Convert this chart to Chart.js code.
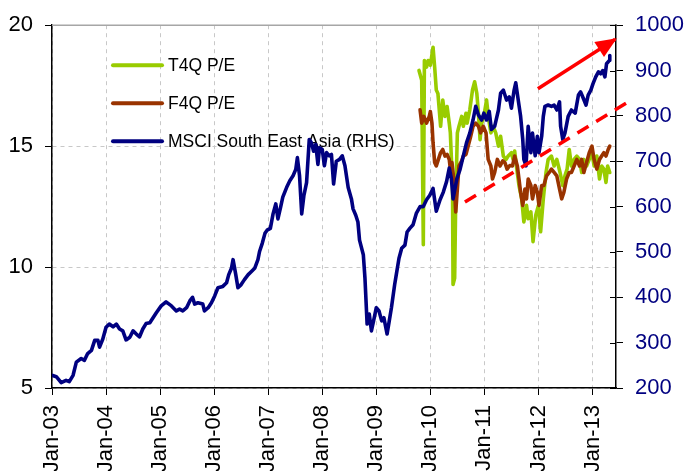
<!DOCTYPE html>
<html>
<head>
<meta charset="utf-8">
<script src="https://cdn.jsdelivr.net/npm/chart.js@4.4.1/dist/chart.umd.min.js"></script>
<style>
  html, body { margin: 0; padding: 0; background: #ffffff; overflow: hidden; }
  #wrap { width: 686px; height: 471px; }
</style>
</head>
<body>
<div id="wrap"><canvas id="chart" width="686" height="471"></canvas></div>
<script>
// X axis: January of each year, expressed as decimal years
const tickYears = [2003, 2004, 2005, 2006, 2007, 2008, 2009, 2010, 2011, 2012, 2013];
const tickLabels = ['Jan-03', 'Jan-04', 'Jan-05', 'Jan-06', 'Jan-07', 'Jan-08', 'Jan-09', 'Jan-10', 'Jan-11', 'Jan-12', 'Jan-13'];

// MSCI South East Asia index level (right-hand axis)
const msciYears = [
  2003.00, 2003.08, 2003.17, 2003.26, 2003.32, 2003.39, 2003.45, 2003.54, 2003.60, 2003.66,
  2003.73, 2003.79, 2003.85, 2003.88, 2003.94, 2004.00, 2004.06, 2004.13, 2004.19, 2004.25,
  2004.31, 2004.37, 2004.44, 2004.50, 2004.56, 2004.62, 2004.68, 2004.74, 2004.81, 2004.87,
  2004.93, 2005.02, 2005.11, 2005.21, 2005.30, 2005.36, 2005.42, 2005.49, 2005.55, 2005.60,
  2005.64, 2005.70, 2005.79, 2005.82, 2005.89, 2005.95, 2006.01, 2006.07, 2006.16, 2006.23,
  2006.27, 2006.32, 2006.35, 2006.40, 2006.44, 2006.50, 2006.56, 2006.63, 2006.69, 2006.75,
  2006.81, 2006.84, 2006.89, 2006.94, 2006.98, 2007.04, 2007.09, 2007.14, 2007.18, 2007.23,
  2007.27, 2007.34, 2007.40, 2007.46, 2007.51, 2007.54, 2007.58, 2007.62, 2007.66, 2007.71,
  2007.76, 2007.80, 2007.84, 2007.88, 2007.92, 2007.95, 2008.00, 2008.04, 2008.08, 2008.13,
  2008.17, 2008.21, 2008.26, 2008.32, 2008.37, 2008.42, 2008.48, 2008.54, 2008.57, 2008.62,
  2008.66, 2008.69, 2008.76, 2008.79, 2008.81, 2008.83, 2008.87, 2008.91, 2008.95, 2009.00,
  2009.05, 2009.10, 2009.14, 2009.20, 2009.24, 2009.28, 2009.34, 2009.37, 2009.42, 2009.47,
  2009.53, 2009.57, 2009.62, 2009.68, 2009.74, 2009.81, 2009.87, 2009.93, 2009.99, 2010.05,
  2010.11, 2010.18, 2010.24, 2010.30, 2010.35, 2010.39, 2010.42, 2010.49, 2010.55, 2010.61,
  2010.67, 2010.73, 2010.79, 2010.84, 2010.89, 2010.95, 2010.99, 2011.04, 2011.09, 2011.13,
  2011.19, 2011.26, 2011.30, 2011.35, 2011.41, 2011.46, 2011.50, 2011.55, 2011.58, 2011.63,
  2011.67, 2011.71, 2011.73, 2011.77, 2011.81, 2011.86, 2011.89, 2011.94, 2011.98, 2012.01,
  2012.06, 2012.09, 2012.12, 2012.18, 2012.24, 2012.29, 2012.34, 2012.39, 2012.41, 2012.45,
  2012.49, 2012.55, 2012.61, 2012.68, 2012.74, 2012.78, 2012.83, 2012.88, 2012.92, 2012.97,
  2013.01, 2013.06, 2013.11, 2013.15, 2013.19, 2013.23, 2013.26, 2013.31, 2013.32
];
const msciValues = [
  228, 225, 212, 217, 214, 228, 257, 265, 261, 276,
  283, 305, 305, 290, 308, 334, 341, 335, 341, 330,
  326, 306, 312, 326, 319, 313, 330, 342, 344, 355,
  366, 381, 390, 381, 370, 374, 370, 377, 392, 400,
  385, 388, 385, 370, 377, 388, 403, 421, 424, 432,
  450, 464, 483, 450, 421, 428, 439, 450, 457, 464,
  483, 501, 519, 541, 548, 552, 584, 606, 573, 599,
  621, 642, 657, 668, 682, 708, 668, 584, 624, 653,
  748, 741, 722, 737, 693, 730, 726, 690, 719, 712,
  715, 650, 700, 704, 712, 690, 642, 617, 595, 581,
  566, 526, 494, 443, 392, 341, 363, 326, 348, 377,
  370, 348, 355, 319, 348, 377, 428, 450, 486, 508,
  515, 544, 552, 560, 585, 600, 600, 615, 625, 640,
  590, 615, 632, 655, 685, 661, 617, 661, 682, 712,
  741, 762, 791, 821, 802, 791, 806, 791, 810, 770,
  777, 813, 850, 857, 835, 842, 817, 857, 873, 832,
  799, 748, 704, 690, 777, 719, 762, 712, 755, 719,
  755, 799, 821, 824, 821, 824, 813, 831, 777, 748,
  762, 799, 813, 806, 846, 853, 839, 824, 846, 857,
  871, 886, 897, 893, 900, 886, 915, 922, 933
];

// Trailing four-quarter P/E (left axis)
const t4qYears = [
  2009.79, 2009.84, 2009.87, 2009.89, 2009.93, 2009.96, 2010.00, 2010.05, 2010.08, 2010.11,
  2010.14, 2010.19, 2010.23, 2010.27, 2010.31, 2010.35, 2010.37, 2010.39, 2010.41, 2010.42,
  2010.45, 2010.47, 2010.50, 2010.53, 2010.58, 2010.61, 2010.66, 2010.68, 2010.73, 2010.78,
  2010.82, 2010.86, 2010.89, 2010.92, 2010.95, 2010.99, 2011.04, 2011.08, 2011.12, 2011.16,
  2011.21, 2011.26, 2011.30, 2011.35, 2011.40, 2011.44, 2011.50, 2011.53, 2011.56, 2011.60,
  2011.64, 2011.69, 2011.73, 2011.78, 2011.81, 2011.86, 2011.90, 2011.95, 2012.00, 2012.04,
  2012.09, 2012.14, 2012.18, 2012.24, 2012.29, 2012.34, 2012.40, 2012.45, 2012.49, 2012.53,
  2012.57, 2012.61, 2012.66, 2012.71, 2012.76, 2012.80, 2012.84, 2012.89, 2012.94, 2012.99,
  2013.03, 2013.08, 2013.13, 2013.17, 2013.21, 2013.25, 2013.28, 2013.32
];
const t4qValues = [
  18.13, 17.72, 10.92, 18.54, 18.27, 18.54, 18.34, 19.09, 18.27, 17.32,
  17.18, 15.82, 16.91, 16.23, 16.64, 15.95, 15.55, 14.45, 13.50, 9.28,
  9.55, 12.82, 15.55, 15.82, 16.23, 15.82, 16.36, 15.95, 16.50, 17.32,
  17.66, 17.18, 16.36, 15.27, 15.95, 16.23, 16.91, 16.09, 15.55, 15.82,
  15.55, 15.00, 15.41, 14.59, 14.45, 14.59, 14.73, 14.45, 14.80, 14.05,
  13.37, 12.82, 11.87, 12.55, 12.00, 12.28, 11.05, 12.14, 12.55, 11.46,
  12.82, 13.91, 14.45, 14.59, 14.18, 14.45, 13.91, 13.37, 13.77, 14.05,
  14.86, 14.18, 14.45, 14.59, 14.45, 13.91, 14.45, 14.18, 14.45, 14.73,
  14.18, 14.59, 13.64, 14.18, 14.05, 13.50, 14.18, 13.91
];

// Forward four-quarter P/E (left axis)
const f4qYears = [
  2009.81, 2009.84, 2009.88, 2009.93, 2009.98, 2010.00, 2010.03, 2010.05, 2010.08, 2010.11,
  2010.14, 2010.19, 2010.23, 2010.27, 2010.31, 2010.35, 2010.37, 2010.40, 2010.42, 2010.44,
  2010.47, 2010.50, 2010.53, 2010.58, 2010.61, 2010.66, 2010.70, 2010.74, 2010.79, 2010.84,
  2010.89, 2010.93, 2010.98, 2011.03, 2011.07, 2011.12, 2011.15, 2011.19, 2011.24, 2011.29,
  2011.34, 2011.38, 2011.42, 2011.47, 2011.52, 2011.56, 2011.61, 2011.64, 2011.67, 2011.71,
  2011.75, 2011.78, 2011.81, 2011.86, 2011.89, 2011.94, 2011.98, 2012.01, 2012.06, 2012.10,
  2012.15, 2012.20, 2012.24, 2012.29, 2012.34, 2012.39, 2012.43, 2012.47, 2012.52, 2012.57,
  2012.61, 2012.66, 2012.71, 2012.76, 2012.80, 2012.84, 2012.89, 2012.94, 2012.99, 2013.03,
  2013.08, 2013.13, 2013.17, 2013.21, 2013.25, 2013.29, 2013.32
];
const f4qValues = [
  16.50, 15.95, 16.23, 15.95, 16.23, 16.43, 15.95, 15.14, 14.32, 14.18,
  14.39, 14.73, 14.86, 14.59, 14.66, 14.45, 14.05, 14.32, 13.91, 13.50,
  12.28, 13.23, 14.18, 14.39, 14.59, 14.66, 15.00, 15.34, 15.82, 15.95,
  15.82, 15.55, 15.82, 15.55, 14.45, 14.18, 13.64, 13.91, 14.45, 14.18,
  14.39, 14.32, 14.05, 14.20, 14.18, 14.59, 14.18, 13.64, 13.09, 12.55,
  13.23, 12.82, 13.64, 13.37, 12.82, 13.37, 13.09, 12.55, 13.37, 13.37,
  13.77, 13.91, 14.05, 13.91, 13.77, 13.23, 12.82, 13.09, 13.64, 13.91,
  13.91, 14.18, 14.45, 14.18, 14.45, 13.91, 14.32, 14.73, 15.00, 14.45,
  14.05, 14.45, 14.59, 14.73, 14.59, 14.86, 15.00
];

// Red trend annotations, in right-axis units
const arrowYears = [2011.99, 2013.42];
const arrowValues = [860, 969];
const trendYears = [2010.64, 2013.66];
const trendValues = [610, 831];

const FONT = "'Liberation Sans', Arial, Helvetica, sans-serif";

function toPoints(xs, ys) {
  return xs.map((x, i) => ({ x: x, y: ys[i] }));
}

// Solid top edge of the plot frame and short inward ticks on the right axis
const frame = {
  id: 'frame',
  beforeDatasetsDraw(chart) {
    const { ctx, chartArea: a, scales } = chart;
    ctx.save();
    ctx.strokeStyle = '#a6a6a6';
    ctx.lineWidth = 1.5;
    ctx.beginPath();
    ctx.moveTo(a.left, a.top);
    ctx.lineTo(a.right, a.top);
    ctx.stroke();
    ctx.strokeStyle = '#000000';
    ctx.lineWidth = 1;
    const r = scales.y1;
    r.ticks.forEach(t => {
      const y = Math.round(r.getPixelForValue(t.value)) + 0.5;
      ctx.beginPath();
      ctx.moveTo(a.right - 6, y);
      ctx.lineTo(a.right, y);
      ctx.stroke();
    });
    ctx.restore();
  }
};

// Legend drawn inside the plot area, top-left
const innerLegend = {
  id: 'innerLegend',
  beforeDatasetsDraw(chart) {
    const { ctx, chartArea: a } = chart;
    const items = chart.data.datasets.filter(d => d.inLegend);
    ctx.save();
    ctx.font = '17.5px ' + FONT;
    ctx.textBaseline = 'middle';
    ctx.textAlign = 'left';
    items.forEach((d, i) => {
      const x = a.left + 61;
      const y = a.top + 40 + i * 38;
      ctx.strokeStyle = d.borderColor;
      ctx.lineWidth = 4;
      ctx.lineCap = 'round';
      ctx.beginPath();
      ctx.moveTo(x, y);
      ctx.lineTo(x + 49, y);
      ctx.stroke();
      ctx.fillStyle = '#000000';
      ctx.fillText(d.label, x + 55, y + 1);
    });
    ctx.restore();
  }
};

// Filled arrowhead at the end of any dataset flagged with arrowHead
const arrowHeads = {
  id: 'arrowHeads',
  afterDatasetsDraw(chart) {
    const { ctx } = chart;
    chart.data.datasets.forEach((d, i) => {
      if (!d.arrowHead) return;
      const pts = chart.getDatasetMeta(i).data;
      if (pts.length < 2) return;
      const p1 = pts[pts.length - 2], p2 = pts[pts.length - 1];
      const ang = Math.atan2(p2.y - p1.y, p2.x - p1.x);
      const len = 19, half = 9;
      const bx = p2.x - len * Math.cos(ang), by = p2.y - len * Math.sin(ang);
      const nx = -Math.sin(ang), ny = Math.cos(ang);
      ctx.save();
      ctx.fillStyle = d.borderColor;
      ctx.beginPath();
      ctx.moveTo(p2.x + 2 * Math.cos(ang), p2.y + 2 * Math.sin(ang));
      ctx.lineTo(bx + half * nx, by + half * ny);
      ctx.lineTo(bx - half * nx, by - half * ny);
      ctx.closePath();
      ctx.fill();
      ctx.restore();
    });
  }
};

const lineBase = {
  pointRadius: 0,
  pointHoverRadius: 0,
  tension: 0,
  borderJoinStyle: 'round',
  borderCapStyle: 'round',
  fill: false
};

new Chart(document.getElementById('chart'), {
  type: 'line',
  data: {
    datasets: [
      Object.assign({}, lineBase, {
        label: 'T4Q P/E', inLegend: true,
        data: toPoints(t4qYears, t4qValues),
        borderColor: '#99cc00', borderWidth: 3.6, yAxisID: 'y', order: 4
      }),
      Object.assign({}, lineBase, {
        label: 'F4Q P/E', inLegend: true,
        data: toPoints(f4qYears, f4qValues),
        borderColor: '#993300', borderWidth: 3.6, yAxisID: 'y', order: 3
      }),
      Object.assign({}, lineBase, {
        label: 'MSCI South East Asia (RHS)', inLegend: true,
        data: toPoints(msciYears, msciValues),
        borderColor: '#000080', borderWidth: 3.6, yAxisID: 'y1', order: 2
      }),
      Object.assign({}, lineBase, {
        label: 'trend', borderCapStyle: 'butt',
        data: toPoints(trendYears, trendValues),
        borderColor: '#ff0000', borderWidth: 3.5, borderDash: [13, 9],
        yAxisID: 'y1', order: 1, clip: false
      }),
      Object.assign({}, lineBase, {
        label: 'arrow', arrowHead: true, borderCapStyle: 'butt',
        data: toPoints(arrowYears, arrowValues),
        borderColor: '#ff0000', borderWidth: 3.5,
        yAxisID: 'y1', order: 0, clip: false
      })
    ]
  },
  options: {
    responsive: false,
    devicePixelRatio: 1,
    animation: false,
    events: [],
    layout: { padding: { top: 21, left: 0, right: 0, bottom: 0 } },
    plugins: { legend: { display: false }, tooltip: { enabled: false } },
    scales: {
      x: {
        type: 'linear',
        min: 2003,
        max: 2013.435,
        afterBuildTicks: s => { s.ticks = tickYears.map(v => ({ value: v })); },
        afterFit: s => { s.height = 83; },
        ticks: {
          autoSkip: false,
          minRotation: 90,
          maxRotation: 90,
          padding: 10,
          color: '#000000',
          font: { family: FONT, size: 22 },
          callback: (v) => tickLabels[tickYears.indexOf(v)]
        },
        grid: {
          color: '#c8c8c8', lineWidth: 1,
          tickColor: '#000000', tickLength: 7, tickWidth: 1, tickBorderDash: []
        },
        border: { color: '#000000', width: 1.5, dash: [4, 4] }
      },
      y: {
        position: 'left',
        min: 5, max: 20,
        afterFit: s => { s.width = 52; },
        ticks: {
          stepSize: 5, padding: 12, color: '#000000',
          font: { family: FONT, size: 22 },
          callback: (v) => String(v)
        },
        grid: {
          color: '#c8c8c8', lineWidth: 1,
          tickColor: '#000000', tickLength: 7, tickWidth: 1, tickBorderDash: []
        },
        border: { color: '#000000', width: 1.5, dash: [4, 4] }
      },
      y1: {
        position: 'right',
        min: 200, max: 1000,
        afterFit: s => { s.width = 70; },
        ticks: {
          stepSize: 100, padding: 12, color: '#000080',
          font: { family: FONT, size: 22 },
          callback: (v) => String(v)
        },
        grid: {
          drawOnChartArea: false,
          tickColor: '#000000', tickLength: 7, tickWidth: 1, tickBorderDash: []
        },
        border: { color: '#000000', width: 1.5 }
      }
    }
  },
  plugins: [frame, innerLegend, arrowHeads]
});
</script>
</body>
</html>
